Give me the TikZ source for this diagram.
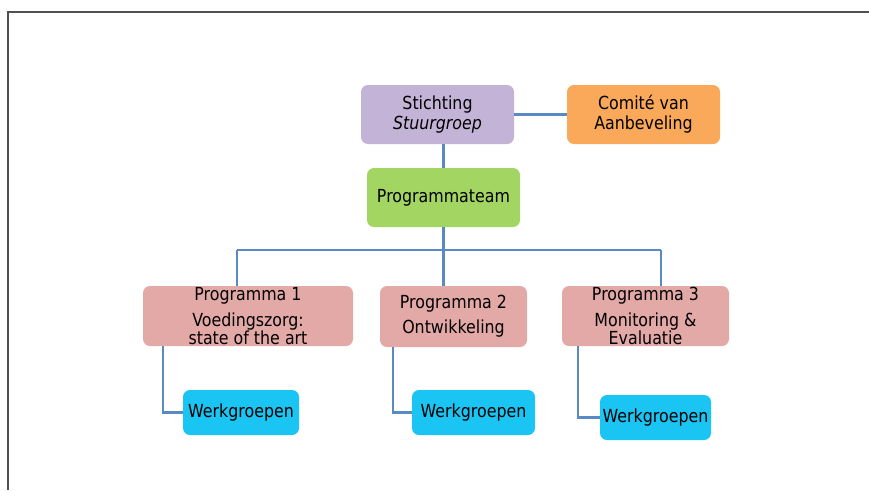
\documentclass[tikz,border=0pt]{standalone}
\usepackage{fontspec}
\setmainfont{DejaVu Sans}[FakeStretch=0.88]
\definecolor{lav}{HTML}{C3B3D6}
\definecolor{org}{HTML}{FAA85A}
\definecolor{grn}{HTML}{A3D563}
\definecolor{pnk}{HTML}{E3A9A7}
\definecolor{cyn}{HTML}{1BC5F3}
\definecolor{lnk}{HTML}{5A8AC6}
\definecolor{frm}{HTML}{505050}
\tikzset{
  box/.style={rounded corners=7pt, inner sep=0pt, align=center, text=black,
    font=\fontsize{18}{20}\selectfont},
  conn/.style={draw=lnk, line width=2.2pt},
}
\begin{document}
\begin{tikzpicture}[x=1pt,y=-1pt]
\useasboundingbox (0,0) rectangle (869,490);
\draw[frm, line width=1.8pt] (8,490) -- (8,12) -- (869,12);

\node[box, fill=lav, minimum width=153pt, minimum height=59pt] (st) at (437.5,114.5) {Stichting\\\textit{Stuurgroep}};
\node[box, fill=org, minimum width=153pt, minimum height=59pt] (cv) at (643.5,114.5) {Comité van\\Aanbeveling};
\node[box, fill=grn, minimum width=153pt, minimum height=59pt] (pt) at (443.5,197.5) {Programmateam};
\node[box, fill=pnk, minimum width=210pt, minimum height=60pt, font=\fontsize{18}{16}\selectfont] (p1) at (248,316) {Programma 1\\[8pt]Voedingszorg:\\state of the art};
\node[box, fill=pnk, minimum width=147pt, minimum height=61pt, font=\fontsize{18}{25}\selectfont] (p2) at (453.5,316.5) {Programma 2\\Ontwikkeling};
\node[box, fill=pnk, minimum width=167pt, minimum height=60pt, font=\fontsize{18}{16}\selectfont] (p3) at (645.5,316) {Programma 3\\[8pt]Monitoring \&\\Evaluatie};
\node[box, fill=cyn, minimum width=116pt, minimum height=45pt] (w1) at (241,412.5) {Werkgroepen};
\node[box, fill=cyn, minimum width=123pt, minimum height=45pt] (w2) at (473.5,412.5) {Werkgroepen};
\node[box, fill=cyn, minimum width=111pt, minimum height=45pt] (w3) at (655.5,417.5) {Werkgroepen};

\coordinate (b1) at (237,250);
\coordinate (b3) at (661,250);
\coordinate (k1) at (163,350);
\coordinate (k2) at (393,350);
\coordinate (k3) at (578,350);

\draw[conn] (st.east) -- (cv.west);
\draw[conn] (pt.north) -- (pt.north |- st.south);
\draw[conn] (pt.south) -- (pt.south |- b1);
\draw[conn] (b1) -- (b3);
\draw[conn] (b1) -- (b1 |- p1.north);
\draw[conn] (pt.south |- b1) -- (pt.south |- p2.north);
\draw[conn] (b3) -- (b3 |- p3.north);
\draw[conn] (k1 |- p1.south) |- (w1.west);
\draw[conn] (k2 |- p2.south) |- (w2.west);
\draw[conn] (k3 |- p3.south) |- (w3.west);
\end{tikzpicture}
\end{document}
